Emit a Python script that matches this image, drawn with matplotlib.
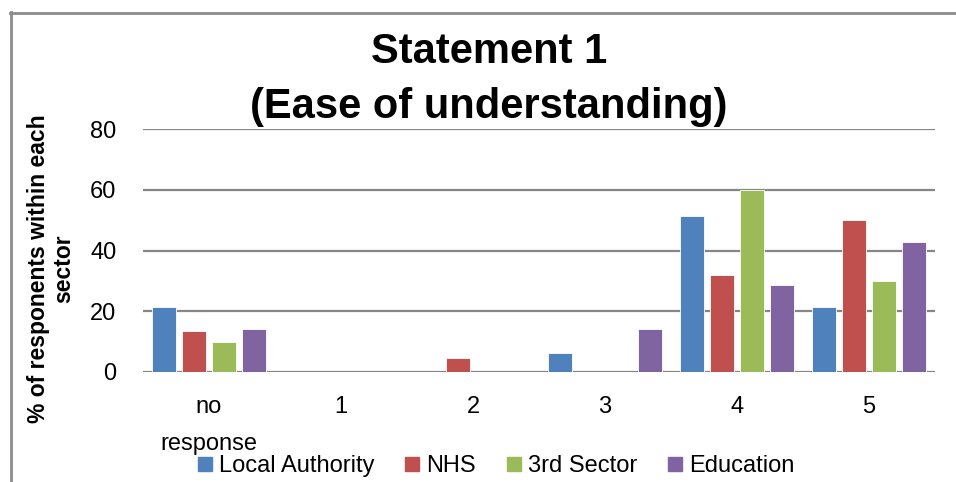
import numpy as np
import matplotlib.pyplot as plt
from matplotlib.lines import Line2D

# Survey results: % of respondents within each sector, per score
categories = ['no\nresponse', '1', '2', '3', '4', '5']
sectors = ['Local Authority', 'NHS', '3rd Sector', 'Education']
local_authority = [21.4, 0, 0, 6.2, 51.5, 21.4]
nhs = [13.6, 0, 4.5, 0, 31.8, 50.0]
third_sector = [10.0, 0, 0, 0, 60.0, 30.0]
education = [14.3, 0, 0, 14.3, 28.6, 42.9]
yticks = [0, 20, 40, 60, 80]

colors = ['#4F81BD', '#C0504D', '#9BBB59', '#8064A2']
series = [local_authority, nhs, third_sector, education]

plt.rcParams['font.family'] = ['Liberation Sans', 'DejaVu Sans']

fig = plt.figure(figsize=(9.56, 4.82), dpi=100)
W, H = 956, 482
ax = fig.add_axes([143 / W, 1 - 372 / H, (935 - 143) / W, (372 - 129) / H])

x = np.arange(len(categories))
pitch = 0.227
width = 0.18
for i, (vals, col) in enumerate(zip(series, colors)):
    ax.bar(x + (i - 1.5) * pitch, vals, width, color=col,
           edgecolor='white', linewidth=0.6, zorder=3, label=sectors[i])

ax.set_xlim(-0.5, len(categories) - 0.5)
ax.set_ylim(0, 80)
ax.set_yticks(yticks)
ax.set_yticklabels([str(v) for v in yticks], fontsize=17)
ax.set_xticks(x)
ax.set_xticklabels(categories, fontsize=17, linespacing=1.9, va='top',
                   multialignment='center')
ax.tick_params(axis='x', length=0, pad=17)
ax.tick_params(axis='y', length=0, pad=19)
ax.grid(axis='y', color='#868686', linewidth=1.6, zorder=0)
for s in ax.spines.values():
    s.set_visible(False)
ax.set_facecolor('none')

# title and y label
fig.text(489 / W, 1 - 52 / H, 'Statement 1', ha='center', va='center',
         fontsize=30, fontweight='bold')
fig.text(489 / W, 1 - 107 / H, '(Ease of understanding)', ha='center', va='center',
         fontsize=30, fontweight='bold')
fig.text(51 / W, 1 - 269 / H, '% of responents within each\nsector', ha='center',
         va='center', rotation=90, fontsize=16.5, fontweight='bold', linespacing=1.15)

# legend along the bottom
handles = [Line2D([], [], marker='s', linestyle='none', markersize=10,
                  markerfacecolor=c, markeredgecolor=c) for c in colors]
fig.legend(handles, sectors, loc='center', bbox_to_anchor=(496 / W, 1 - 466 / H),
           ncol=4, frameon=False, fontsize=17, handlelength=0.6,
           handletextpad=0.3, columnspacing=1.3, borderpad=0)

# outer chart frame
fig.add_artist(Line2D([10.5 / W, 10.5 / W], [0, 1 - 12 / H], color='#8c8c8c', lw=2))
fig.add_artist(Line2D([10 / W, 1], [1 - 12.5 / H, 1 - 12.5 / H], color='#8c8c8c', lw=2))

fig.savefig('out.png', dpi=100)
